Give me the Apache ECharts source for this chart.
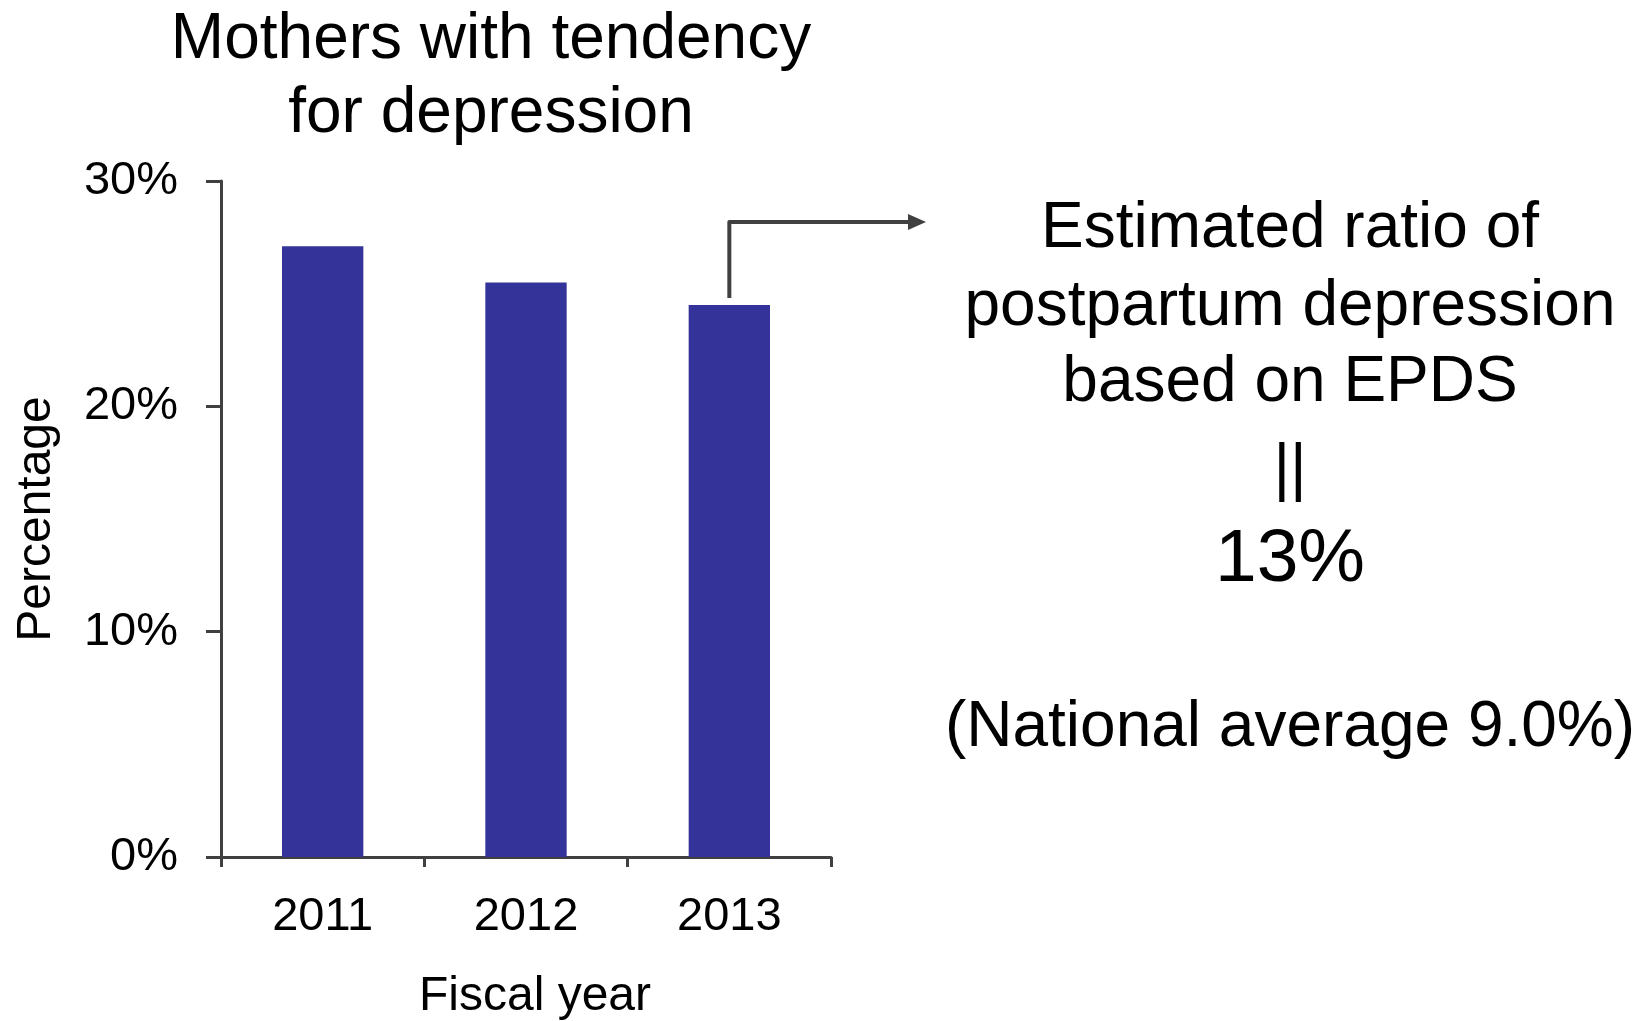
<!DOCTYPE html>
<html>
<head>
<meta charset="utf-8">
<script src="https://cdn.jsdelivr.net/npm/echarts@6/dist/echarts.min.js"></script>
<style>
  html, body { margin: 0; padding: 0; background: #ffffff; }
  #chart { width: 1649px; height: 1021px; }
</style>
</head>
<body>
<div id="chart"></div>
<script>
// Fiscal years and share of mothers with a tendency for depression (%)
const fiscalYears = ['2011', '2012', '2013'];
const depressionShare = [27.1, 25.5, 24.5];
const yTicks = { min: 0, max: 30, interval: 10 };

// Side note texts
const noteLines = ['Estimated ratio of', 'postpartum depression', 'based on EPDS', '||'];
const noteValue = '13%';
const noteFootnote = '(National average 9.0%)';

const FONT = '"Liberation Sans", Arial, Helvetica, sans-serif';
const AXIS_COLOR = '#404040';
const BAR_COLOR = '#333399';

const chart = echarts.init(document.getElementById('chart'), null, { renderer: 'canvas' });

const option = {
  backgroundColor: '#ffffff',
  animation: false,
  textStyle: { fontFamily: FONT },
  title: {
    text: 'Mothers with tendency\nfor depression',
    left: 486,
    top: -2,
    textAlign: 'center',
    textStyle: {
      fontFamily: FONT,
      fontSize: 64,
      fontWeight: 'normal',
      color: '#000000',
      lineHeight: 74
    }
  },
  grid: {
    left: 221, right: 818, top: 181, bottom: 164,
    containLabel: false,
    outerBoundsMode: 'none'
  },
  xAxis: {
    type: 'category',
    data: fiscalYears,
    name: 'Fiscal year',
    nameLocation: 'middle',
    nameGap: 116,
    nameTextStyle: { fontFamily: FONT, fontSize: 48, color: '#000000', padding: [0, 0, 0, 18] },
    axisLine: { lineStyle: { color: AXIS_COLOR, width: 3 } },
    axisTick: { show: true, length: 10, lineStyle: { color: AXIS_COLOR, width: 3 } },
    axisLabel: { margin: 37, fontFamily: FONT, fontSize: 47, color: '#000000' }
  },
  yAxis: {
    type: 'value',
    min: yTicks.min,
    max: yTicks.max,
    interval: yTicks.interval,
    name: 'Percentage',
    nameLocation: 'middle',
    nameGap: 160,
    nameRotate: 90,
    nameTextStyle: { fontFamily: FONT, fontSize: 48, color: '#000000' },
    axisLine: { show: true, lineStyle: { color: AXIS_COLOR, width: 3 } },
    axisTick: { show: true, length: 15, lineStyle: { color: AXIS_COLOR, width: 3 } },
    splitLine: { show: false },
    axisLabel: {
      margin: 43,
      fontFamily: FONT,
      fontSize: 47,
      color: '#000000',
      formatter: '{value}%'
    }
  },
  series: [{
    type: 'bar',
    data: depressionShare,
    barCategoryGap: '60%',
    itemStyle: { color: BAR_COLOR }
  }]
};

chart.setOption(option);

// Callout arrow from the last bar to the note, plus the note text block
const lastIdx = fiscalYears.length - 1;
const barTop = chart.convertToPixel({ seriesIndex: 0 }, [lastIdx, depressionShare[lastIdx]]);
const x0 = barTop[0];
const y0 = barTop[1] - 7;
const yTurn = 222;
const xEnd = 910;

const noteX = 1290;
const graphics = [
  {
    type: 'polyline',
    shape: { points: [[x0, y0], [x0, yTurn], [xEnd, yTurn]] },
    style: { stroke: AXIS_COLOR, lineWidth: 4, fill: null, lineJoin: 'round' }
  },
  {
    type: 'polygon',
    shape: { points: [[xEnd - 2, yTurn - 8], [xEnd + 16, yTurn], [xEnd - 2, yTurn + 8]] },
    style: { fill: AXIS_COLOR }
  }
];
const noteYs = [229, 307, 383, 471];
noteLines.forEach((t, i) => {
  graphics.push({
    type: 'text',
    x: noteX, y: noteYs[i],
    style: {
      text: t, fontFamily: FONT, fontSize: 64, fill: '#000000',
      textAlign: 'center', textVerticalAlign: 'middle'
    }
  });
});
graphics.push({
  type: 'text', x: noteX, y: 560,
  style: { text: noteValue, fontFamily: FONT, fontSize: 75, fill: '#000000', textAlign: 'center', textVerticalAlign: 'middle' }
});
graphics.push({
  type: 'text', x: noteX, y: 728,
  style: { text: noteFootnote, fontFamily: FONT, fontSize: 64, fill: '#000000', textAlign: 'center', textVerticalAlign: 'middle' }
});

chart.setOption({ graphic: graphics });
</script>
</body>
</html>
